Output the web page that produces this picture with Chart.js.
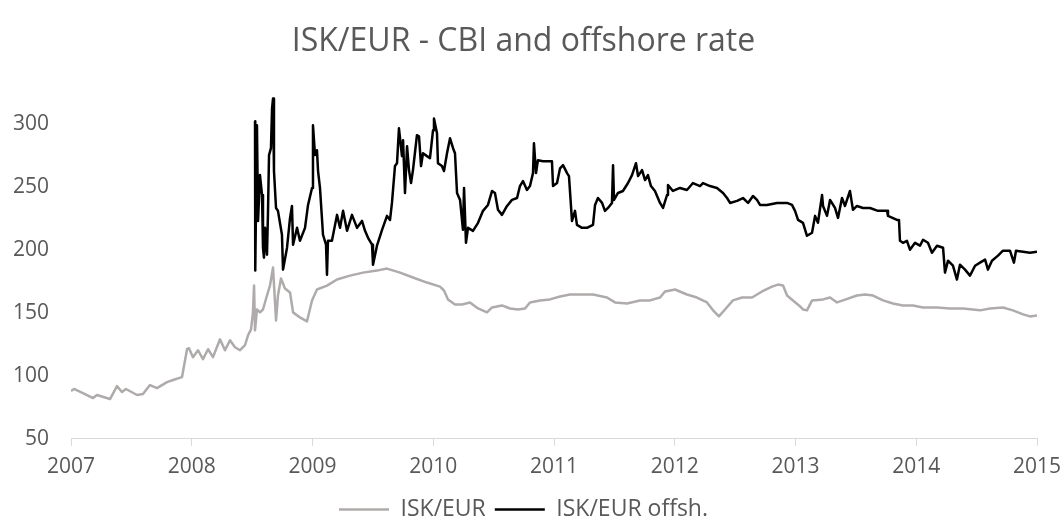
<!DOCTYPE html>
<html>
<head>
<meta charset="utf-8">
<script src="https://cdn.jsdelivr.net/npm/chart.js@4"></script>
<style>
  html, body { margin: 0; padding: 0; background: #fff; }
  #chart { display: block; }
</style>
</head>
<body>
<canvas id="chart" width="1064" height="531"></canvas>
<script>
// decimal year, ISK/EUR official (CBI) rate
const isk_dates = [
  2007.000, 2007.025, 2007.116, 2007.182, 2007.215, 2007.323, 2007.381, 2007.422, 2007.455, 2007.547,
  2007.596, 2007.654, 2007.712, 2007.795, 2007.845, 2007.919, 2007.961, 2007.977, 2008.010, 2008.052,
  2008.093, 2008.135, 2008.176, 2008.234, 2008.275, 2008.317, 2008.358, 2008.400, 2008.441, 2008.466,
  2008.491, 2008.507, 2008.516, 2008.524, 2008.540, 2008.565, 2008.590, 2008.623, 2008.648, 2008.673,
  2008.698, 2008.714, 2008.739, 2008.772, 2008.814, 2008.839, 2008.896, 2008.954, 2008.996, 2009.037,
  2009.120, 2009.203, 2009.311, 2009.418, 2009.534, 2009.617, 2009.725, 2009.832, 2009.948, 2010.056,
  2010.089, 2010.122, 2010.180, 2010.238, 2010.304, 2010.371, 2010.445, 2010.487, 2010.569, 2010.636,
  2010.702, 2010.760, 2010.801, 2010.884, 2010.967, 2011.050, 2011.133, 2011.215, 2011.323, 2011.439,
  2011.505, 2011.605, 2011.712, 2011.795, 2011.878, 2011.919, 2012.002, 2012.101, 2012.184, 2012.267,
  2012.317, 2012.366, 2012.416, 2012.482, 2012.557, 2012.640, 2012.723, 2012.805, 2012.855, 2012.897,
  2012.930, 2012.979, 2013.029, 2013.062, 2013.095, 2013.137, 2013.228, 2013.286, 2013.344, 2013.393,
  2013.509, 2013.576, 2013.642, 2013.725, 2013.807, 2013.890, 2013.973, 2014.056, 2014.172, 2014.280,
  2014.387, 2014.528, 2014.611, 2014.718, 2014.801, 2014.884, 2014.942, 2015.000
];
const isk_values = [
  88.0, 89.6, 85.6, 82.4, 84.8, 81.6, 91.9, 87.2, 89.6, 84.8,
  85.6, 92.7, 90.3, 95.1, 96.7, 99.0, 121.2, 122.0, 114.9, 120.4,
  113.3, 121.2, 114.9, 129.1, 120.4, 128.3, 122.8, 120.4, 124.4, 132.3,
  137.0, 150.5, 171.8, 136.2, 152.8, 150.5, 152.8, 163.9, 171.8, 186.1,
  144.1, 163.9, 177.4, 169.5, 166.3, 150.5, 146.5, 143.3, 160.0, 168.7,
  171.8, 176.6, 179.7, 182.1, 183.7, 185.3, 182.1, 178.2, 174.2, 171.0,
  167.9, 160.8, 156.8, 156.8, 158.4, 153.6, 150.5, 154.4, 156.0, 153.6,
  152.8, 153.6, 158.4, 160.0, 160.8, 163.1, 164.7, 164.7, 164.7, 162.3,
  158.4, 157.6, 160.0, 160.0, 162.3, 167.1, 168.7, 164.7, 162.3, 158.4,
  152.1, 147.3, 152.8, 160.0, 162.3, 162.3, 167.1, 171.0, 172.6, 171.8,
  163.9, 160.0, 156.0, 152.8, 152.1, 160.0, 160.8, 162.3, 158.4, 160.0,
  163.9, 164.7, 163.9, 160.0, 157.6, 156.0, 156.0, 154.4, 154.4, 153.6,
  153.6, 152.1, 153.6, 154.4, 152.1, 148.9, 147.3, 148.1
];

// decimal year, ISK/EUR offshore rate
const offsh_dates = [
  2008.524, 2008.526, 2008.540, 2008.549, 2008.565, 2008.582, 2008.590, 2008.598, 2008.607, 2008.623,
  2008.631, 2008.640, 2008.656, 2008.665, 2008.673, 2008.681, 2008.698, 2008.714, 2008.747, 2008.756,
  2008.789, 2008.814, 2008.830, 2008.839, 2008.872, 2008.896, 2008.938, 2008.963, 2008.996, 2009.004,
  2009.021, 2009.037, 2009.046, 2009.062, 2009.087, 2009.112, 2009.120, 2009.128, 2009.161, 2009.203,
  2009.228, 2009.253, 2009.286, 2009.327, 2009.369, 2009.410, 2009.435, 2009.460, 2009.493, 2009.501,
  2009.534, 2009.576, 2009.617, 2009.642, 2009.658, 2009.683, 2009.700, 2009.716, 2009.741, 2009.750,
  2009.766, 2009.783, 2009.799, 2009.816, 2009.832, 2009.865, 2009.882, 2009.899, 2009.915, 2009.948,
  2009.973, 2009.998, 2010.006, 2010.031, 2010.039, 2010.072, 2010.089, 2010.114, 2010.139, 2010.164,
  2010.180, 2010.197, 2010.222, 2010.246, 2010.255, 2010.271, 2010.288, 2010.329, 2010.371, 2010.412,
  2010.453, 2010.487, 2010.511, 2010.536, 2010.569, 2010.611, 2010.652, 2010.694, 2010.718, 2010.743,
  2010.776, 2010.801, 2010.826, 2010.834, 2010.851, 2010.867, 2010.909, 2010.983, 2010.992, 2011.025,
  2011.050, 2011.075, 2011.108, 2011.124, 2011.149, 2011.174, 2011.190, 2011.232, 2011.273, 2011.323,
  2011.340, 2011.364, 2011.398, 2011.422, 2011.447, 2011.480, 2011.489, 2011.497, 2011.530, 2011.571,
  2011.613, 2011.646, 2011.679, 2011.696, 2011.729, 2011.754, 2011.778, 2011.803, 2011.836, 2011.878,
  2011.903, 2011.936, 2011.944, 2011.985, 2012.043, 2012.101, 2012.151, 2012.209, 2012.234, 2012.292,
  2012.350, 2012.400, 2012.433, 2012.458, 2012.516, 2012.565, 2012.607, 2012.648, 2012.681, 2012.706,
  2012.764, 2012.847, 2012.930, 2012.971, 2012.996, 2013.021, 2013.062, 2013.095, 2013.137, 2013.162,
  2013.186, 2013.220, 2013.228, 2013.261, 2013.286, 2013.327, 2013.352, 2013.385, 2013.410, 2013.451,
  2013.476, 2013.509, 2013.559, 2013.617, 2013.683, 2013.758, 2013.766, 2013.840, 2013.857, 2013.865,
  2013.890, 2013.923, 2013.948, 2013.990, 2014.031, 2014.056, 2014.097, 2014.130, 2014.172, 2014.222,
  2014.238, 2014.263, 2014.304, 2014.337, 2014.362, 2014.404, 2014.445, 2014.487, 2014.528, 2014.570,
  2014.594, 2014.627, 2014.677, 2014.718, 2014.776, 2014.809, 2014.826, 2014.884, 2014.942, 2015.000
];
const offsh_values = [
  302.4, 183.7, 299.2, 223.2, 259.6, 243.8, 201.9, 194.0, 217.7, 196.3,
  228.0, 275.5, 281.0, 312.6, 320.5, 262.8, 233.5, 231.2, 212.2, 184.5,
  201.9, 225.6, 235.1, 204.3, 217.7, 207.4, 217.7, 235.9, 249.4, 299.2,
  275.5, 279.4, 262.8, 249.4, 212.2, 204.3, 180.5, 207.4, 207.4, 228.0,
  217.7, 231.2, 215.3, 228.0, 217.7, 223.2, 215.3, 209.8, 204.3, 188.4,
  203.5, 216.1, 227.2, 224.0, 237.5, 266.8, 269.1, 296.8, 274.7, 287.3,
  245.4, 282.6, 263.6, 253.3, 263.6, 291.3, 290.5, 266.8, 277.0, 274.7,
  273.1, 295.2, 304.7, 292.9, 269.1, 266.8, 262.8, 277.0, 288.9, 281.0,
  277.0, 245.4, 239.9, 216.1, 249.4, 205.8, 217.7, 215.3, 221.7, 231.2,
  235.9, 247.0, 245.4, 232.0, 228.0, 235.1, 239.9, 241.4, 250.9, 254.9,
  247.8, 250.9, 261.2, 284.9, 261.2, 271.5, 270.7, 270.7, 250.9, 253.3,
  265.0, 267.5, 261.2, 258.8, 223.2, 231.2, 220.1, 217.7, 217.7, 220.1,
  235.9, 241.4, 237.5, 231.2, 233.5, 237.5, 267.5, 239.9, 245.4, 247.0,
  253.3, 259.6, 269.1, 258.8, 263.6, 255.7, 259.6, 250.9, 247.0, 237.5,
  233.5, 243.8, 251.7, 247.0, 249.4, 247.8, 253.3, 250.9, 253.3, 250.9,
  249.4, 245.4, 241.4, 237.5, 239.1, 241.4, 237.5, 243.0, 239.9, 235.9,
  235.9, 237.5, 237.5, 235.9, 231.2, 224.0, 221.7, 211.4, 213.8, 227.2,
  221.7, 243.8, 235.1, 227.2, 239.9, 233.5, 225.6, 241.4, 235.1, 247.0,
  232.0, 235.1, 233.5, 233.5, 231.2, 231.2, 227.2, 224.0, 224.0, 207.4,
  205.8, 207.4, 200.3, 205.8, 203.5, 208.2, 205.8, 197.9, 203.5, 201.9,
  182.1, 191.6, 187.6, 176.6, 188.4, 184.5, 179.7, 187.6, 190.0, 192.4,
  184.5, 191.6, 195.6, 199.5, 199.5, 190.0, 199.5, 198.7, 197.9, 198.7
];

const year_ticks = [2007, 2008, 2009, 2010, 2011, 2012, 2013, 2014, 2015];
const series_names = ['ISK/EUR', 'ISK/EUR offsh.'];

const toPoints = (xs, ys) => xs.map((x, i) => ({ x: x, y: ys[i] }));
const txt = '#595959';
const font = 'Open Sans';

new Chart(document.getElementById('chart'), {
  type: 'line',
  data: {
    datasets: [
      {
        label: series_names[0],
        data: toPoints(isk_dates, isk_values),
        borderColor: '#AFABAB',
        backgroundColor: '#AFABAB',
        borderWidth: 2.5
      },
      {
        label: series_names[1],
        data: toPoints(offsh_dates, offsh_values),
        borderColor: '#000000',
        backgroundColor: '#000000',
        borderWidth: 2.5
      }
    ]
  },
  options: {
    responsive: false,
    animation: false,
    devicePixelRatio: 1,
    layout: { padding: { left: 10, right: 27, top: 8, bottom: 0 } },
    elements: {
      point: { radius: 0 },
      line: { tension: 0, borderJoinStyle: 'round' }
    },
    plugins: {
      tooltip: { enabled: false },
      title: {
        display: true,
        text: 'ISK/EUR - CBI and offshore rate',
        color: txt,
        font: { family: font, size: 32, weight: 'normal' },
        padding: { top: 15, bottom: 0 }
      },
      legend: {
        position: 'bottom',
        labels: {
          usePointStyle: true,
          pointStyle: 'line',
          pointStyleWidth: 50,
          color: txt,
          font: { family: font, size: 23 },
          padding: 9
        }
      }
    },
    scales: {
      x: {
        type: 'linear',
        min: 2007,
        max: 2015,
        afterBuildTicks: s => { s.ticks = year_ticks.map(v => ({ value: v })); },
        afterFit: s => { s.paddingRight = 0; s.paddingLeft = 0; },
        ticks: {
          callback: v => String(v),
          color: txt,
          font: { family: font, size: 21 },
          padding: 9,
          maxRotation: 0
        },
        grid: {
          drawOnChartArea: false,
          drawTicks: true,
          tickLength: 7,
          color: '#D9D9D9'
        },
        border: { color: '#D9D9D9', width: 1 }
      },
      y: {
        min: 50,
        max: 350,
        ticks: {
          stepSize: 50,
          callback: v => (v === 350 ? '' : v),
          color: txt,
          font: { family: font, size: 21 },
          padding: 22
        },
        grid: { display: false, drawTicks: false },
        border: { display: false },
        afterFit: s => { s.width = 61; }
      }
    }
  }
});
</script>
</body>
</html>
